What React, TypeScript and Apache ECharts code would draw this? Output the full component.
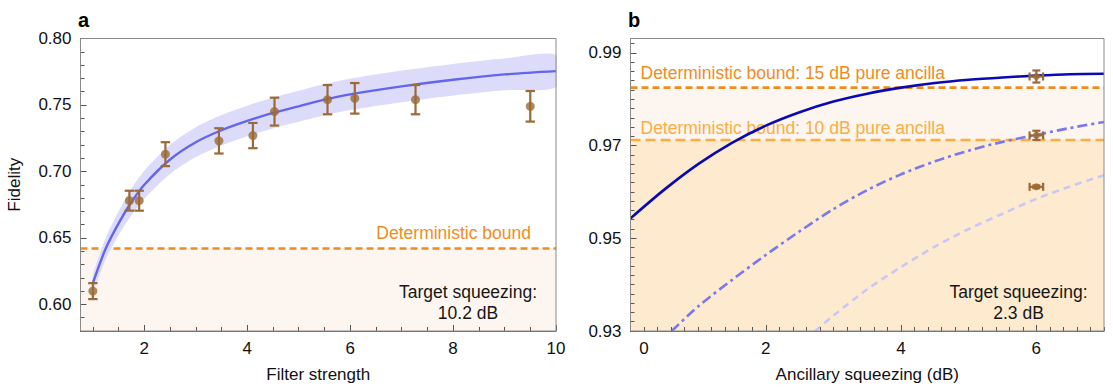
import React, { useEffect, useRef } from "react";
import * as echarts from "echarts";

// ---------- Panel a: fidelity vs filter strength ----------
const filterX = [1.0, 1.71, 1.9, 2.41, 3.45, 4.11, 4.53, 5.56, 6.09, 7.27, 9.5];
const filterFid = [0.61, 0.678, 0.678, 0.713, 0.723, 0.727, 0.745, 0.754, 0.755, 0.754, 0.749];
const filterErr = [0.006, 0.0075, 0.0075, 0.009, 0.0095, 0.0095, 0.0105, 0.011, 0.0115, 0.011, 0.0115];

const fitX = [1.0, 1.25, 1.5, 1.75, 2.0, 2.5, 3.0, 3.5, 4.0, 4.5, 5.0, 5.5, 6.0, 7.0, 8.0, 9.0, 10.0];
const fitF = [0.616, 0.642, 0.661, 0.677, 0.69, 0.709, 0.722, 0.731, 0.738, 0.744, 0.749, 0.754, 0.758, 0.764, 0.769, 0.773, 0.7755];
const fitHalf = [0.006, 0.008, 0.009, 0.01, 0.0105, 0.011, 0.0112, 0.0114, 0.0115, 0.0116, 0.0117, 0.0118, 0.0118, 0.0119, 0.0119, 0.012, 0.012];

const boundA = 0.642;
const xMajorA = [2, 4, 6, 8, 10];
const yMajorA = [0.6, 0.65, 0.7, 0.75, 0.8];

// ---------- Panel b: fidelity vs ancillary squeezing ----------
const ancX = [6.0, 6.0, 6.0];
const ancF = [0.9849, 0.9722, 0.9611];
const ancFErr = [0.0013, 0.001, 0.0003];
const ancXErr = [0.1, 0.1, 0.1];

const solidX = [0, 0.5, 1, 1.5, 2, 2.5, 3, 3.5, 4, 4.5, 5, 5.5, 6, 6.5, 7];
const solidF = [0.9543, 0.9605, 0.966, 0.9706, 0.9743, 0.9772, 0.9795, 0.9812, 0.9825, 0.9835, 0.9842, 0.9847, 0.9851, 0.9854, 0.9855];

const dashDotX = [0.61, 1.0, 1.5, 2.0, 2.5, 3.0, 3.5, 4.0, 4.5, 5.0, 5.5, 6.0, 6.5, 7.0];
const dashDotF = [0.93, 0.9353, 0.941, 0.9464, 0.9515, 0.9563, 0.9604, 0.9638, 0.9666, 0.9689, 0.9708, 0.9723, 0.9738, 0.9751];

const dashX = [2.73, 3.0, 3.5, 4.0, 4.5, 5.0, 5.5, 6.0, 6.5, 7.0];
const dashF = [0.93, 0.9333, 0.939, 0.9438, 0.9482, 0.952, 0.9553, 0.9585, 0.9612, 0.9636];

const bound15 = 0.9825;
const bound10 = 0.9712;
const xMajorB = [0, 2, 4, 6];
const yMajorB = [0.93, 0.95, 0.97, 0.99];

// ---------- limits ----------
const xMinA = 0.76, xMaxA = 10, yMinA = 0.58, yMaxA = 0.8;
const xMinB = 0, xMaxB = 7, yMinB = 0.93, yMaxB = 0.9931;

function steps(a: number, b: number, step: number): number[] {
  const out: number[] = [];
  for (let i = 0; a + i * step <= b + 1e-9; i++) out.push(Number((a + i * step).toFixed(5)));
  return out;
}
const xMinorA = steps(1, 10, 0.5);
const yMinorA = steps(0.58, 0.8, 0.01);
const xMinorB = steps(0, 7, 0.2);
const yMinorB = steps(0.93, 0.992, 0.002);

const FONT = "'Liberation Sans', Arial, Helvetica, sans-serif";
const BROWN = "#9b6a36";
const ORANGE = "#f08c1e";
const ORANGE_LIGHT = "#fbad42";
const TICK = "#555";

function zip(xs: number[], ys: number[]) {
  return xs.map((x, i) => [x, ys[i]]);
}

function majorX(grid: number, min: number, max: number, values: number[], name: string, fmt?: any, rich?: any) {
  return {
    type: "value", gridIndex: grid, min, max, position: "bottom", z: 6,
    axisLine: { show: true, lineStyle: { color: "#666", width: 1 } },
    axisTick: { show: true, inside: true, length: 6, customValues: values, lineStyle: { color: TICK, width: 1 } },
    axisLabel: { customValues: values, margin: 7, fontSize: 17, lineHeight: 20, color: "#111", fontFamily: FONT, formatter: fmt, rich },
    splitLine: { show: false },
    name, nameLocation: "middle", nameGap: 33,
    nameTextStyle: { fontSize: 17, lineHeight: 20, color: "#111", fontFamily: FONT },
  };
}
function minorX(grid: number, min: number, max: number, values: number[]) {
  return {
    type: "value", gridIndex: grid, min, max, position: "bottom", offset: 0, z: 6,
    axisLine: { show: false },
    axisTick: { show: true, inside: true, length: 4, customValues: values, lineStyle: { color: TICK, width: 1 } },
    axisLabel: { show: false },
    splitLine: { show: false },
  };
}
function majorY(grid: number, min: number, max: number, values: number[], name: string) {
  return {
    type: "value", gridIndex: grid, min, max, position: "left", z: 6,
    axisLine: { show: true, lineStyle: { color: "#666", width: 1 } },
    axisTick: { show: true, inside: true, length: 6, customValues: values, lineStyle: { color: TICK, width: 1 } },
    axisLabel: { customValues: values, margin: 9, fontSize: 17, color: "#111", fontFamily: FONT, formatter: (v: number) => v.toFixed(2) },
    splitLine: { show: false },
    name, nameLocation: "middle", nameGap: 56,
    nameTextStyle: { fontSize: 17, lineHeight: 20, color: "#111", fontFamily: FONT },
  };
}
function minorY(grid: number, min: number, max: number, values: number[]) {
  return {
    type: "value", gridIndex: grid, min, max, position: "left", offset: 0, z: 6,
    axisLine: { show: false },
    axisTick: { show: true, inside: true, length: 4, customValues: values, lineStyle: { color: TICK, width: 1 } },
    axisLabel: { show: false },
    splitLine: { show: false },
  };
}

function errorBars(capHalf: number) {
  return (params: any, api: any) => {
    const x = api.value(0), y = api.value(1), ey = api.value(2), ex = api.value(3);
    const style = { stroke: BROWN, lineWidth: 2.2 };
    const children: any[] = [];
    if (ey > 0) {
      const t = api.coord([x, y + ey]);
      const b = api.coord([x, y - ey]);
      children.push({ type: "line", shape: { x1: t[0], y1: t[1], x2: b[0], y2: b[1] }, style });
      children.push({ type: "line", shape: { x1: t[0] - capHalf, y1: t[1], x2: t[0] + capHalf, y2: t[1] }, style });
      children.push({ type: "line", shape: { x1: b[0] - capHalf, y1: b[1], x2: b[0] + capHalf, y2: b[1] }, style });
    }
    if (ex > 0) {
      const l = api.coord([x - ex, y]);
      const r = api.coord([x + ex, y]);
      children.push({ type: "line", shape: { x1: l[0], y1: l[1], x2: r[0], y2: r[1] }, style });
      children.push({ type: "line", shape: { x1: l[0], y1: l[1] - capHalf, x2: l[0], y2: l[1] + capHalf }, style });
      children.push({ type: "line", shape: { x1: r[0], y1: r[1] - capHalf, x2: r[0], y2: r[1] + capHalf }, style });
    }
    return { type: "group", children };
  };
}

// confidence band drawn once as a polygon through the axis scales
function bandItem(params: any, api: any) {
  if (params.dataIndex !== 0) return null;
  const upper = fitX.map((x, i) => api.coord([x, fitF[i] + fitHalf[i]]));
  const lower = fitX.map((x, i) => api.coord([x, fitF[i] - fitHalf[i]])).reverse();
  return {
    type: "polygon",
    shape: { points: upper.concat(lower), smooth: 0.25 },
    style: { fill: "#dcdcfa", stroke: "none" },
  };
}

function text(x: number, y: number, t: string, color: string, align: string, extra: any = {}) {
  return {
    type: "text", x, y, z: 2, silent: true,
    style: {
      text: t, fill: color, fontSize: 17.5, fontFamily: FONT,
      align, textAlign: align, verticalAlign: "middle", textVerticalAlign: "middle", ...extra,
    },
  };
}

function buildOption(): any {
  const curve = { symbol: "none", smooth: 0.3, silent: true };
  return {
    animation: false,
    grid: [
      { left: 80.5, top: 38.5, width: 475.5, height: 292.5, show: true, borderColor: "#8a8a8a", borderWidth: 1, backgroundColor: "transparent", z: 10 },
      { left: 630.5, top: 38.5, width: 473.5, height: 292.5, show: true, borderColor: "#8a8a8a", borderWidth: 1, backgroundColor: "transparent", z: 10 },
    ],
    xAxis: [
      majorX(0, xMinA, xMaxA, xMajorA, "Filter strength"),
      minorX(0, xMinA, xMaxA, xMinorA),
      majorX(1, xMinB, xMaxB, xMajorB, "Ancillary squeezing (dB)",
        (v: number) => (v === 0 ? "{z|0}" : String(v)),
        { z: { padding: [0, 0, 0, 27], fontSize: 17, fontFamily: FONT, color: "#111" } }),
      minorX(1, xMinB, xMaxB, xMinorB),
    ],
    yAxis: [
      majorY(0, yMinA, yMaxA, yMajorA, "Fidelity"),
      minorY(0, yMinA, yMaxA, yMinorA),
      majorY(1, yMinB, yMaxB, yMajorB, ""),
      minorY(1, yMinB, yMaxB, yMinorB),
    ],
    graphic: [
      text(78, 20, "a", "#000", "left", { fontSize: 20, fontWeight: "bold" }),
      text(628, 20, "b", "#000", "left", { fontSize: 20, fontWeight: "bold" }),
      text(531, 233, "Deterministic bound", ORANGE, "right"),
      text(468, 302.5, "Target squeezing:\n10.2 dB", "#161616", "center", { lineHeight: 21.5 }),
      text(640.5, 72.5, "Deterministic bound: 15 dB pure ancilla", ORANGE, "left"),
      text(640.5, 127.5, "Deterministic bound: 10 dB pure ancilla", ORANGE_LIGHT, "left"),
      text(1018.5, 302.5, "Target squeezing:\n2.3 dB", "#161616", "center", { lineHeight: 21.5 }),
    ],
    series: [
      // ---- panel a ----
      {
        type: "line", xAxisIndex: 0, yAxisIndex: 0, z: 1, silent: true,
        data: [[xMinA, boundA], [xMaxA, boundA]], symbol: "none",
        lineStyle: { opacity: 0 },
        markArea: { silent: true, itemStyle: { color: "#fdf6f0" }, data: [[{ xAxis: xMinA, yAxis: yMinA }, { xAxis: xMaxA, yAxis: boundA }]] },
      },
      {
        type: "line", xAxisIndex: 0, yAxisIndex: 0, z: 2, silent: true,
        data: [[xMinA, boundA], [xMaxA, boundA]], symbol: "none",
        lineStyle: { color: ORANGE, width: 2.6, type: [7, 4] },
      },
      {
        type: "custom", xAxisIndex: 0, yAxisIndex: 0, z: 3, silent: true, clip: true,
        renderItem: bandItem,
        encode: { x: 0, y: 1 },
        data: zip(fitX, fitF),
      },
      {
        type: "line", xAxisIndex: 0, yAxisIndex: 0, z: 4, ...curve,
        data: zip(fitX, fitF),
        lineStyle: { color: "#6464ee", width: 2.4 },
      },
      {
        type: "custom", xAxisIndex: 0, yAxisIndex: 0, z: 5, silent: true,
        renderItem: errorBars(4.7),
        encode: { x: 0, y: 1 },
        data: filterX.map((x, i) => [x, filterFid[i], filterErr[i], 0]),
      },
      {
        type: "scatter", xAxisIndex: 0, yAxisIndex: 0, z: 6, silent: true,
        data: zip(filterX, filterFid), symbol: "circle", symbolSize: 9,
        itemStyle: { color: BROWN },
      },
      // ---- panel b ----
      {
        type: "line", xAxisIndex: 2, yAxisIndex: 2, z: 1, silent: true,
        data: [[xMinB, bound15], [xMaxB, bound15]], symbol: "none",
        lineStyle: { opacity: 0 },
        markArea: {
          silent: true,
          data: [
            [{ xAxis: xMinB, yAxis: yMinB, itemStyle: { color: "#fdf5ef" } }, { xAxis: xMaxB, yAxis: bound15 }],
            [{ xAxis: xMinB, yAxis: yMinB, itemStyle: { color: "#fdeacf" } }, { xAxis: xMaxB, yAxis: bound10 }],
          ],
        },
      },
      {
        type: "line", xAxisIndex: 2, yAxisIndex: 2, z: 2, silent: true,
        data: [[xMinB, bound15], [xMaxB, bound15]], symbol: "none",
        lineStyle: { color: ORANGE, width: 2.6, type: [7, 4] },
      },
      {
        type: "line", xAxisIndex: 2, yAxisIndex: 2, z: 2, silent: true,
        data: [[xMinB, bound10], [xMaxB, bound10]], symbol: "none",
        lineStyle: { color: ORANGE_LIGHT, width: 2.6, type: [10, 5] },
      },
      {
        type: "line", xAxisIndex: 2, yAxisIndex: 2, z: 4, ...curve,
        data: zip(dashX, dashF),
        lineStyle: { color: "#c8c8f8", width: 2.6, type: [7, 5] },
      },
      {
        type: "line", xAxisIndex: 2, yAxisIndex: 2, z: 4, ...curve,
        data: zip(dashDotX, dashDotF),
        lineStyle: { color: "#7878f0", width: 2.6, type: [10, 4, 3, 4] },
      },
      {
        type: "line", xAxisIndex: 2, yAxisIndex: 2, z: 4, ...curve,
        data: zip(solidX, solidF),
        lineStyle: { color: "#0a0ab4", width: 2.6 },
      },
      {
        type: "custom", xAxisIndex: 2, yAxisIndex: 2, z: 5, silent: true,
        renderItem: errorBars(4),
        encode: { x: 0, y: 1 },
        data: ancX.map((x, i) => [x, ancF[i], ancFErr[i], ancXErr[i]]),
      },
      {
        type: "scatter", xAxisIndex: 2, yAxisIndex: 2, z: 6, silent: true,
        data: zip(ancX, ancF), symbol: "circle", symbolSize: 7,
        itemStyle: { color: BROWN },
      },
    ],
  };
}

export default function App() {
  const ref = useRef<HTMLDivElement>(null);
  useEffect(() => {
    if (!ref.current) return;
    const chart = echarts.init(ref.current, null, { renderer: "svg" });
    chart.setOption(buildOption());
    return () => chart.dispose();
  }, []);
  return (
    <div
      ref={ref}
      style={{ position: "fixed", left: 0, top: 0, width: 1113, height: 391, background: "#fff" }}
    />
  );
}
